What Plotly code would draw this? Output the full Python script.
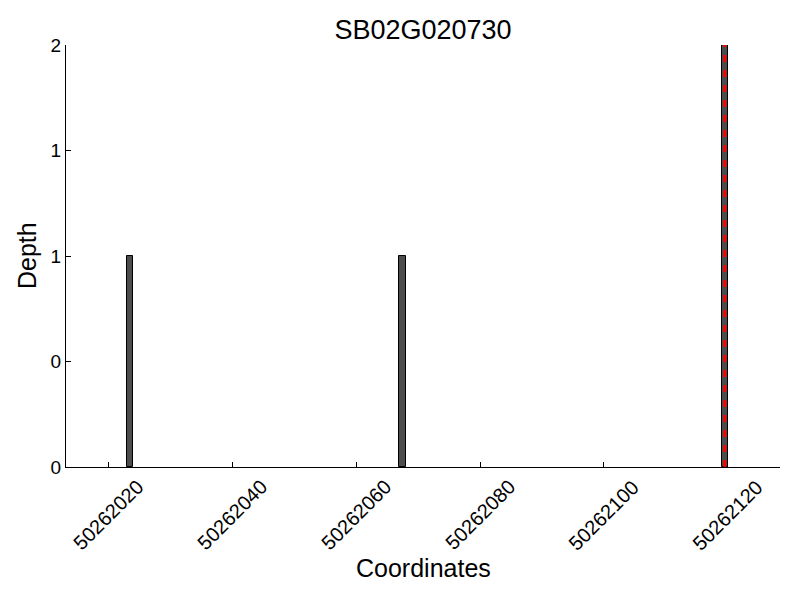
import plotly.graph_objects as go

coords = [50262023, 50262067, 50262119]
depths = [1, 1, 2]
highlight_coord = [50262119, 50262119]
highlight_depth = [0, 2]
x_ticks = [50262020, 50262040, 50262060, 50262080, 50262100, 50262120]
x_ticktext = [str(v) for v in x_ticks]
y_tickvals = [0, 0.5, 1, 1.5, 2]
y_ticktext = ["0", "0", "1", "1", "2"]

FONT = "Liberation Sans, Arial, sans-serif"

fig = go.Figure()
fig.add_trace(go.Bar(
    x=coords, y=depths, width=1, offset=0,
    marker=dict(color="#4d4d4d", line=dict(color="black", width=1)),
    showlegend=False,
))
fig.add_trace(go.Scatter(
    x=[v + 0.5 for v in highlight_coord], y=highlight_depth, mode="lines",
    line=dict(color="red", width=3, dash="7px,8px"),
    showlegend=False,
))

annotations = []
for v, t in zip(x_ticks, x_ticktext):
    annotations.append(dict(
        x=v, xref="x", y=0, yref="paper", text=t, textangle=-45,
        xanchor="center", yanchor="top", yshift=-6, showarrow=False,
        font=dict(size=20, family=FONT, color="black"),
    ))
annotations.append(dict(
    x=0.5, xref="paper", y=0, yref="paper", text="Coordinates",
    xanchor="center", yanchor="middle", yshift=-101, showarrow=False,
    font=dict(size=25, family=FONT, color="black"),
))
annotations.append(dict(
    x=0, xref="paper", y=0.5, yref="paper", text="Depth", textangle=-90,
    xanchor="center", yanchor="middle", xshift=-39, showarrow=False,
    font=dict(size=25, family=FONT, color="black"),
))

fig.update_layout(
    width=800, height=600,
    paper_bgcolor="white", plot_bgcolor="white",
    font=dict(family=FONT, color="black", size=19),
    margin=dict(l=58, r=28, t=37, b=141),
    title=dict(text="SB02G020730", x=0.51875, xanchor="center", y=0.9633, yanchor="middle",
               font=dict(size=27, family=FONT)),
    bargap=0,
    annotations=annotations,
)
fig.update_xaxes(
    range=[50262013.2, 50262128.4],
    tickvals=x_ticks, showticklabels=False,
    ticks="inside", ticklen=5, tickcolor="black",
    showline=True, linecolor="black", linewidth=1,
    showgrid=False, zeroline=False,
)
fig.update_yaxes(
    range=[0, 2],
    tickvals=y_tickvals, ticktext=y_ticktext,
    tickfont=dict(size=19, family=FONT, color="black"),
    ticks="inside", ticklen=5, tickcolor="black",
    showline=True, linecolor="black", linewidth=1,
    showgrid=False, zeroline=False,
)
fig.write_html("out.html")
